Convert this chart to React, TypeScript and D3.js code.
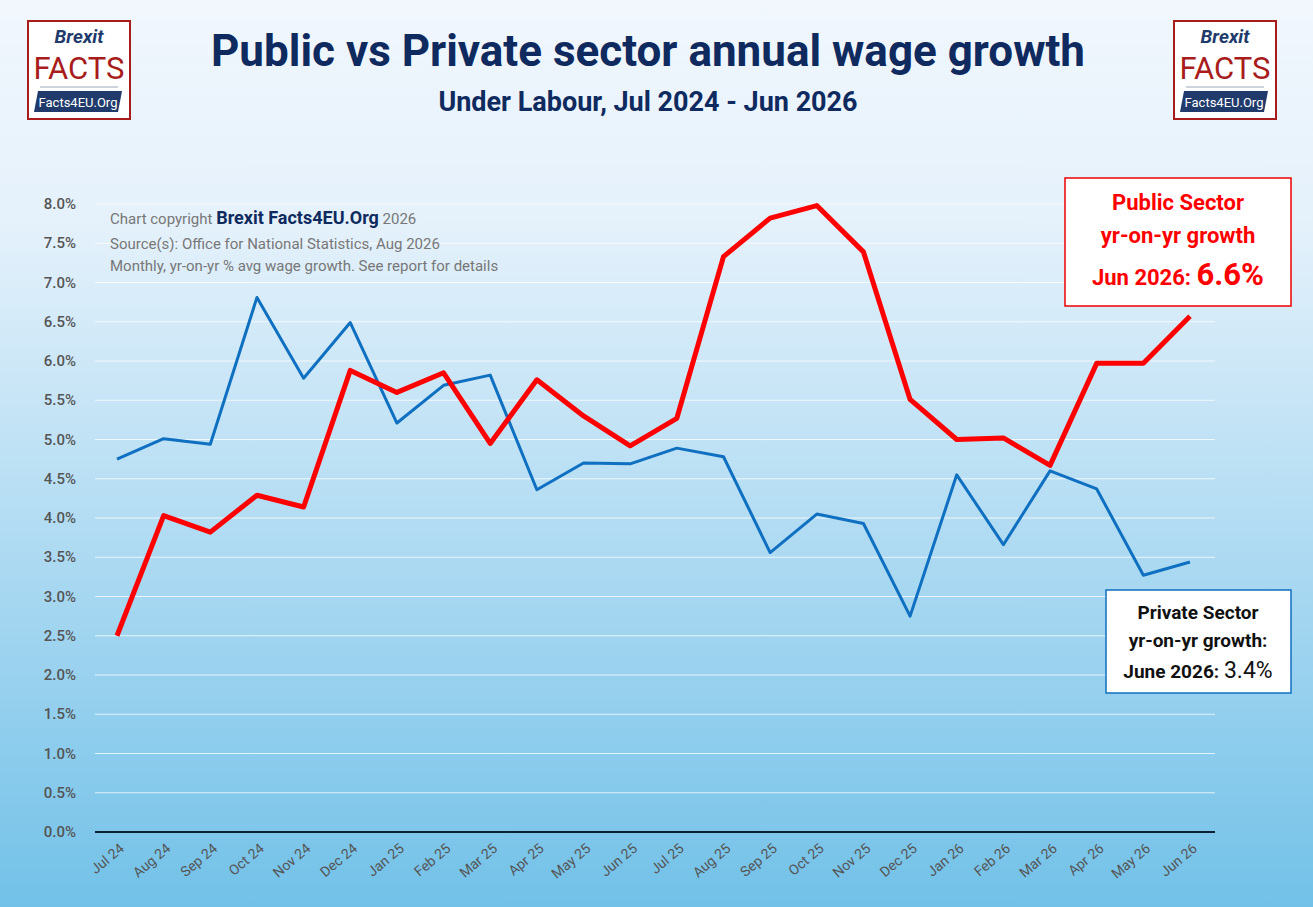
import React from 'react';
import * as d3 from 'd3';

const months = ['Jul 24','Aug 24','Sep 24','Oct 24','Nov 24','Dec 24','Jan 25','Feb 25','Mar 25','Apr 25','May 25','Jun 25','Jul 25','Aug 25','Sep 25','Oct 25','Nov 25','Dec 25','Jan 26','Feb 26','Mar 26','Apr 26','May 26','Jun 26'];
const publicSector = [2.5,4.03,3.82,4.29,4.14,5.88,5.6,5.85,4.95,5.76,5.3,4.92,5.27,7.33,7.82,7.98,7.39,5.51,5.0,5.02,4.67,5.97,5.97,6.57];
const privateSector = [4.75,5.01,4.94,6.81,5.78,6.49,5.21,5.69,5.82,4.36,4.70,4.69,4.89,4.78,3.56,4.05,3.93,2.75,4.55,3.66,4.60,4.37,3.27,3.44];
const yTicks = d3.range(0, 8.01, 0.5);

const W = 1313, H = 907;
const x = d3.scalePoint<string>().domain(months).range([117, 1190]);
const y = d3.scaleLinear().domain([0, 8]).range([832, 204]);
const line = (vals: number[]) => d3.line<number>().x((_, i) => x(months[i])!).y(d => y(d))(vals)!;
const F = 'Roboto, "Open Sans", sans-serif';

const Logo = ({ lx }: { lx: number }) => (
  <g transform={`translate(${lx},21)`} fontFamily={F}>
    <rect x={0} y={0} width={102} height={98} fill="#fff" stroke="#a81c1c" strokeWidth={2} />
    <text x={51} y={22} textAnchor="middle" fontSize={19} fontStyle="italic" fontWeight={700} fill="#203a6c">Brexit</text>
    <text x={51} y={58} textAnchor="middle" fontSize={31} fill="#a81c1c">FACTS</text>
    <line x1={12} y1={66} x2={90} y2={66} stroke="#9ab" />
    <path d="M10 70 H94 L90 91 H6 Z" fill="#203a6c" />
    <text x={50} y={86} textAnchor="middle" fontSize={13} fill="#fff">Facts4EU.Org</text>
  </g>
);

export default function App() {
  return (
    <svg width={W} height={H} style={{ display: 'block', position: 'absolute', left: 0, top: 0 }}>
      <defs>
        <linearGradient id="bg" x1="0" y1="0" x2="0" y2="1">
          <stop offset="0" stopColor="#f1f7fd" />
          <stop offset="0.25" stopColor="#e4f1fb" />
          <stop offset="1" stopColor="#72c1e8" />
        </linearGradient>
      </defs>
      <rect width={W} height={H} fill="url(#bg)" />
      <Logo lx={28} />
      <Logo lx={1174} />
      <text x={648} y={66} textAnchor="middle" fontFamily={F} fontWeight={700} fontSize={44} fill="#0e2a5e">Public vs Private sector annual wage growth</text>
      <text x={648} y={111} textAnchor="middle" fontFamily={F} fontWeight={700} fontSize={27} fill="#0e2a5e">Under Labour, Jul 2024 - Jun 2026</text>

      {yTicks.map(t => (
        <g key={t}>
          {t > 0 && <line x1={95} x2={1215} y1={y(t)} y2={y(t)} stroke="#ffffff" strokeOpacity={0.75} />}
          <text x={76} y={y(t) + 5} textAnchor="end" fontFamily={F} fontSize={15} fontWeight={500} fill="#555">{t.toFixed(1)}%</text>
        </g>
      ))}
      <line x1={95} x2={1215} y1={y(0)} y2={y(0)} stroke="#0c2233" strokeWidth={2} />
      {months.map(m => (
        <text key={m} transform={`translate(${x(m)! + 8},${850}) rotate(-40)`} textAnchor="end" fontFamily={F} fontSize={14} fill="#555">{m}</text>
      ))}

      <g fontFamily={F} fontSize={15} fill="#777">
        <text x={110} y={224}>Chart copyright <tspan fill="#0e2a5e" fontWeight={700} fontSize={18}>Brexit Facts4EU.Org</tspan> 2026</text>
        <text x={110} y={249}>Source(s): Office for National Statistics, Aug 2026</text>
        <text x={110} y={271}>Monthly, yr-on-yr % avg wage growth. See report for details</text>
      </g>

      <path d={line(privateSector)} fill="none" stroke="#0f6fc0" strokeWidth={3} strokeLinejoin="round" />
      <path d={line(publicSector)} fill="none" stroke="#ff0000" strokeWidth={5} strokeLinejoin="round" />

      <g fontFamily={F} fontWeight={700} textAnchor="middle">
        <rect x={1065} y={178} width={226} height={128} fill="#fff" stroke="#e00" strokeWidth={1.5} />
        <text x={1178} y={210} fontSize={22} fill="#f00">Public Sector</text>
        <text x={1178} y={243} fontSize={22} fill="#f00">yr-on-yr growth</text>
        <text x={1178} y={285} fontSize={22} fill="#f00">Jun 2026: <tspan fontSize={31}>6.6%</tspan></text>

        <rect x={1106} y={590} width={185} height={103} fill="#fff" stroke="#0f6fc0" strokeWidth={1.5} />
        <text x={1198} y={619} fontSize={19} fill="#111">Private Sector</text>
        <text x={1198} y={647} fontSize={19} fill="#111">yr-on-yr growth:</text>
        <text x={1198} y={678} fontSize={19} fill="#111">June 2026: <tspan fontSize={23} fontWeight={400}>3.4%</tspan></text>
      </g>
    </svg>
  );
}
